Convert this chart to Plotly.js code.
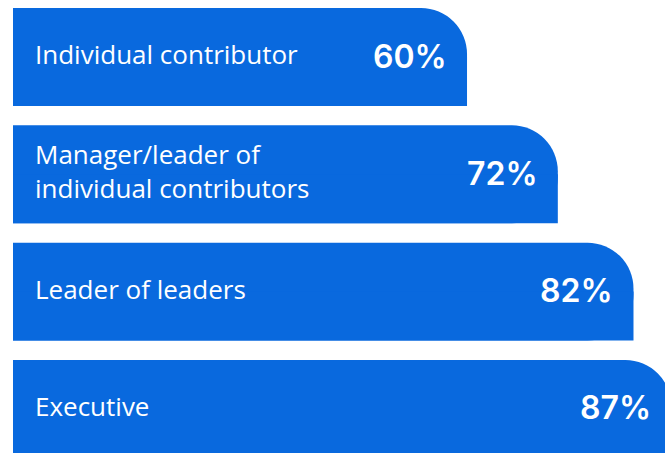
<!DOCTYPE html>
<html>
<head>
<meta charset="utf-8">
<script src="https://cdn.plot.ly/plotly-3.0.1.min.js"></script>
<style>html,body{margin:0;padding:0;background:#fff;overflow:hidden;width:665px;height:453px;}#chart{width:690px;height:453px;}</style>
</head>
<body>
<div id="chart"></div>
<script>
var categories = ["Individual contributor", "Manager/leader of<br>individual contributors", "Leader of leaders", "Executive"];
var values = [60, 72, 82, 87];
var valueLabels = ["60%", "72%", "82%", "87%"];

var positions = categories.map(function(_, i){ return i; });
var blue = "#0969DE";
var barW = 0.835;

var mainBar = {
  type: "bar", orientation: "h",
  x: values, y: positions,
  width: barW, offset: -barW/2,
  marker: {color: blue, cornerradius: 46, line: {width: 0}},
  hoverinfo: "skip", showlegend: false
};
var squareBottom = {
  type: "bar", orientation: "h",
  x: values, y: positions,
  width: barW/2, offset: 0,
  marker: {color: blue, line: {width: 0}},
  hoverinfo: "skip", showlegend: false
};

var annotations = [];
categories.forEach(function(c, i){
  annotations.push({
    xref: "x", yref: "y", x: 0, y: positions[i], text: c,
    xanchor: "left", yanchor: "middle", align: "left", xshift: 20, yshift: 3,
    showarrow: false, font: {family: "Open Sans, sans-serif", size: 26, color: "#ffffff"}
  });
  annotations.push({
    xref: "x", yref: "y", x: values[i], y: positions[i], text: valueLabels[i],
    xanchor: "right", yanchor: "middle", xshift: -18, yshift: 1,
    showarrow: false, font: {family: "Inter, sans-serif", size: 32, weight: 600, color: "#ffffff"}
  });
});

var pxPer = 7.567;
var W = 690;
var layout = {
  width: W, height: 453,
  margin: {l: 0, r: 0, t: 0, b: 0},
  paper_bgcolor: "#ffffff", plot_bgcolor: "#ffffff",
  barmode: "overlay",
  xaxis: {range: [-13/pxPer, (W-13)/pxPer], showgrid: false, zeroline: false, showticklabels: false, ticks: "", fixedrange: true},
  yaxis: {range: [(453-57)/117.3, -57/117.3], showgrid: false, zeroline: false, showticklabels: false, ticks: "", fixedrange: true},
  annotations: annotations
};

Plotly.newPlot("chart", [mainBar, squareBottom], layout, {displayModeBar: false, staticPlot: true});
</script>
</body>
</html>
